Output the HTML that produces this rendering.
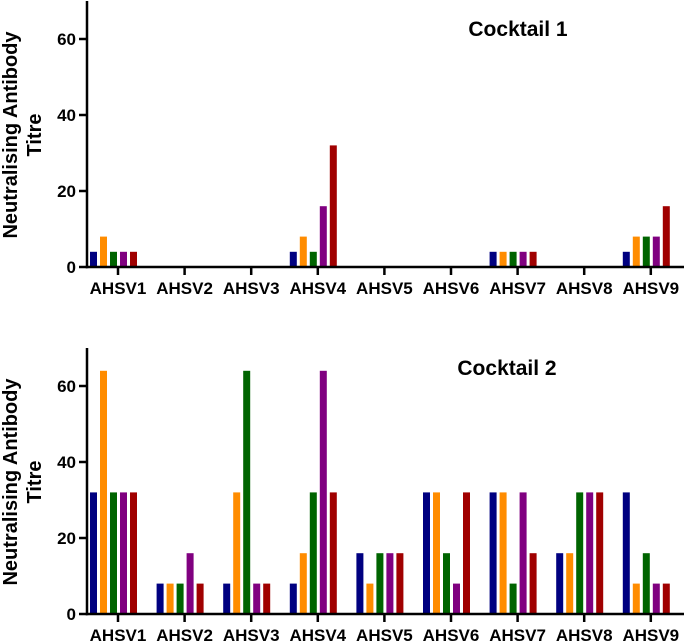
<!DOCTYPE html>
<html><head><meta charset="utf-8"><style>
html,body{margin:0;padding:0;background:#fff}
svg{display:block;font-family:"Liberation Sans",Arial,sans-serif;font-weight:bold}
</style></head><body>
<svg id="chart" width="686" height="641" viewBox="0 0 686 641" xmlns="http://www.w3.org/2000/svg"></svg>
<script>
const categories = ["AHSV1","AHSV2","AHSV3","AHSV4","AHSV5","AHSV6","AHSV7","AHSV8","AHSV9"];
const yTicks = [0,20,40,60];
const colors = ["#000080","#ff8c00","#006400","#800080","#a00000"];
const cocktail1 = [
  [4,8,4,4,4],[0,0,0,0,0],[0,0,0,0,0],[4,8,4,16,32],[0,0,0,0,0],
  [0,0,0,0,0],[4,4,4,4,4],[0,0,0,0,0],[4,8,8,8,16]
];
const cocktail2 = [
  [32,64,32,32,32],[8,8,8,16,8],[8,32,64,8,8],[8,16,32,64,32],[16,8,16,16,16],
  [32,32,16,8,32],[32,32,8,32,16],[16,16,32,32,32],[32,8,16,8,8]
];
const titles = ["Cocktail 1","Cocktail 2"];

const svg = document.getElementById('chart');
const NS = "http://www.w3.org/2000/svg";
function mk(tag, attrs, parent){const e=document.createElementNS(NS,tag);for(const k in attrs)e.setAttribute(k,attrs[k]);(parent||svg).appendChild(e);return e;}

function drawPanel(data, title, base, idx, titleX, titleY){
  const yMax = 70, pxPer = 3.8, axisX = 87;
  const y = v => base - v*pxPer;
  const x = i => 118 + i*66.6;
  const g = mk('g',{});
  
  
  data.forEach((vals,ci)=>{
    vals.forEach((v,si)=>{
      if(v<=0) return;
      const r = mk('rect',{x:x(ci)-28+si*10, y:y(v), width:7, height:v*pxPer, fill:colors[si]}, g);
      
      
    });
  });
  const ya = mk('line',{x1:axisX,y1:y(yMax),x2:axisX,y2:base+1.2,stroke:'#000','stroke-width':2.5},g);
   
  const xa = mk('line',{x1:axisX-1.2,y1:base,x2:684,y2:base,stroke:'#000','stroke-width':2.5},g);
   
  yTicks.forEach(t=>{
    mk('line',{x1:axisX-8,y1:y(t),x2:axisX,y2:y(t),stroke:'#000','stroke-width':2.5},g);
    const tl = mk('text',{x:axisX-11,y:y(t)+6,'text-anchor':'end','font-size':17},g);
    tl.textContent = t;
     
  });
  categories.forEach((c,i)=>{
    mk('line',{x1:x(i),y1:base,x2:x(i),y2:base+8,stroke:'#000','stroke-width':2.5},g);
    const tl = mk('text',{x:x(i),y:base+27,'text-anchor':'middle','font-size':17},g);
    tl.textContent = c;
     
  });
  const tt = mk('text',{x:titleX,y:titleY,'text-anchor':'middle','font-size':21},g);
  tt.textContent = title;
   
  const cy = base - 132;
  const yt = mk('text',{transform:`translate(17,${cy}) rotate(-90)`,'text-anchor':'middle','font-size':20},g);
   
  const t1 = mk('tspan',{x:0,dy:0},yt); t1.textContent='Neutralising Antibody';
  const t2 = mk('tspan',{x:0,dy:24},yt); t2.textContent='Titre';
}
drawPanel(cocktail1, titles[0], 267, 0, 518, 36);
drawPanel(cocktail2, titles[1], 614, 1, 507, 375);
</script>
</body></html>
